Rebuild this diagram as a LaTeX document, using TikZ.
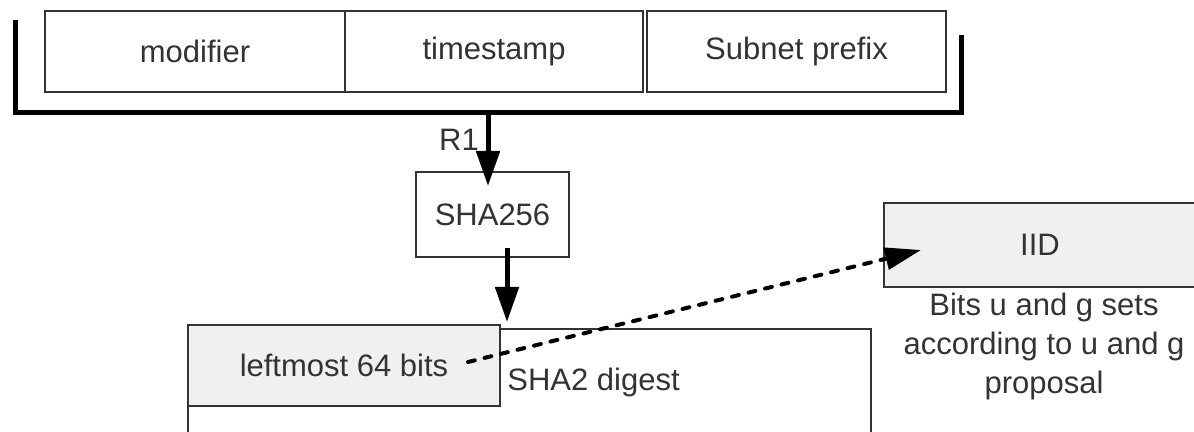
\documentclass[tikz,border=0pt]{standalone}
\usepackage{fontspec}
\setmainfont{Liberation Sans}
\usetikzlibrary{arrows.meta, positioning, calc}
\definecolor{boxgray}{HTML}{F0F0F0}
\definecolor{linegray}{HTML}{333333}

\begin{document}
\begin{tikzpicture}[x=0.5pt, y=-0.5pt,
    field/.style={draw=linegray, line width=1pt, minimum height=40.5pt, inner sep=0pt,
                  font=\fontsize{15.5}{18}\selectfont, text=black!80},
    hbox/.style={draw=linegray, line width=1pt, inner sep=0pt,
                 font=\fontsize{15.5}{18}\selectfont, text=black!80},
    lbl/.style={inner sep=0pt, font=\fontsize{15.5}{19.5}\selectfont, text=black!80},
    arrow/.style={-{Triangle[length=17.5pt, width=11.5pt]}, line width=2.5pt, black},
    dasharrow/.style={-{Triangle[length=18pt, width=11pt]}, line width=2pt, black,
                      dash pattern=on 3.5pt off 5pt, line cap=round},
    bracket/.style={line width=2.5pt, black},
]
\useasboundingbox (0,0) rectangle (1194,432);
\clip (0,0) rectangle (1194,432);

% ===== input fields =====
\node[field, minimum width=150pt]   (modifier)  at (195,51.5)   {modifier};
\node[field, minimum width=149pt]   (timestamp) at (494,51.5)   {timestamp};
\node[field, minimum width=149.5pt] (subnet)    at (796.5,51.5) {Subnet prefix};

% ===== bracket =====
\coordinate (brkl) at (15,20);
\coordinate (brkr) at (961,35);
\coordinate (brkout) at (488,112.5);
\draw[bracket] (brkl) |- (brkout) -| (brkr);

% ===== hash =====
\node[hbox, minimum width=76.5pt, minimum height=42.5pt] (sha) at (492.5,214.5) {SHA256};
\node[lbl] (r1) at (459,140) {R1};

% ===== digest =====
\node[hbox, minimum width=341.5pt, minimum height=71pt] (digest) at (529.5,400) {};
\node[hbox, fill=boxgray, minimum width=156pt, minimum height=40.5pt] (lm) at (344,365.5) {leftmost 64 bits};
\node[lbl, anchor=west] (digesttxt) at ($(lm.east)+(6,17)$) {SHA2 digest};

% ===== IID =====
\node[hbox, fill=boxgray, minimum width=156pt, minimum height=42pt] (iid) at (1040,245) {IID};
\node[lbl, align=center, anchor=north] (note) at ($(iid.south)+(4,5)$)
    {Bits u and g sets\\according to u and g\\proposal};

% ===== arrows =====
\draw[arrow] (brkout) -- (brkout |- sha.north) [shorten >=-7.5pt];
\draw[arrow] ([xshift=7.25pt,yshift=5pt]sha.south) -- ([xshift=7.25pt,yshift=3pt]sha.south |- digest.north);
\draw[dasharrow] ($(lm.east)+(-33,-3.5)$) -- ($(iid.west)+(38,5)$);
\end{tikzpicture}
\end{document}
